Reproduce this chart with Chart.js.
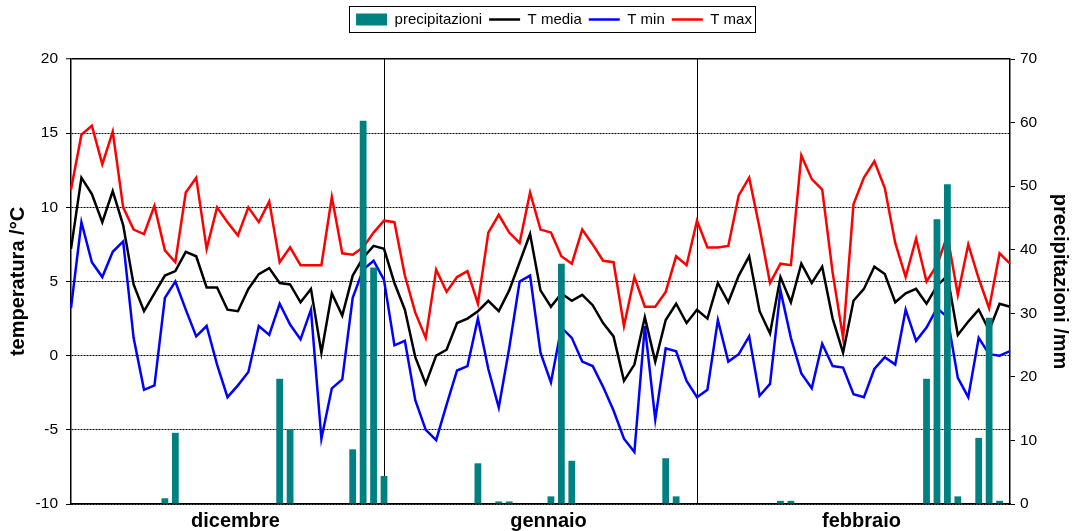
<!DOCTYPE html>
<html>
<head>
<meta charset="utf-8">
<script src="https://cdn.jsdelivr.net/npm/chart.js@4.4.0/dist/chart.umd.min.js"></script>
<style>
  html, body { margin: 0; padding: 0; background: #fff; }
  #wrap { width: 1078px; height: 531px; }
</style>
</head>
<body>
<div id="wrap"><canvas id="meteo" width="1078" height="531"></canvas></div>
<script>
// mesi e giorni (dic, gen, feb bisestile)
const mesi = ['dicembre', 'gennaio', 'febbraio'];
const giorniMese = [31, 31, 29];
const posMese = [15, 45, 75];     // dove scrivere il nome del mese
const separatori = [30, 60];      // linee verticali tra i mesi

const tickTemp = [-10, -5, 0, 5, 10, 15, 20];
const tickPrec = [0, 10, 20, 30, 40, 50, 60, 70];

const tMedia = [
  7.2, 12.0, 10.9, 9.0, 11.1, 8.8, 4.8, 3.0, 4.2, 5.4, 5.7, 7.0, 6.7, 4.6, 4.6, 3.1, 3.0, 4.5, 5.5, 5.9,
  4.9, 4.8, 3.6, 4.5, 0.2, 4.2, 2.7, 5.4, 6.6, 7.4, 7.2, 4.9, 3.1, -0.1, -1.9, 0.0, 0.4, 2.2, 2.5, 3.0,
  3.7, 3.0, 4.4, 6.3, 8.2, 4.4, 3.3, 4.2, 3.7, 4.1, 3.4, 2.2, 1.3, -1.7, -0.6, 2.6, -0.4, 2.4, 3.5, 2.2,
  3.1, 2.5, 4.9, 3.6, 5.4, 6.7, 3.0, 1.5, 5.3, 3.6, 6.2, 4.9, 6.0, 2.5, 0.2, 3.7, 4.5, 6.0, 5.5, 3.6,
  4.2, 4.5, 3.5, 4.7, 5.4, 1.4, 2.3, 3.1, 1.7, 3.5, 3.3
];
const tMin = [
  3.2, 9.0, 6.3, 5.3, 7.0, 7.7, 1.2, -2.3, -2.0, 3.9, 5.0, 3.1, 1.3, 2.0, -0.6, -2.8, -2.0, -1.1, 2.0, 1.4,
  3.5, 2.1, 1.1, 3.1, -5.6, -2.2, -1.6, 3.9, 5.8, 6.4, 5.1, 0.7, 1.0, -3.0, -5.0, -5.7, -3.3, -1.0, -0.7, 2.5,
  -0.9, -3.5, 0.5, 5.0, 5.4, 0.2, -1.8, 1.9, 1.2, -0.4, -0.7, -2.1, -3.7, -5.6, -6.5, 2.0, -4.3, 0.5, 0.3, -1.7,
  -2.8, -2.3, 2.4, -0.4, 0.1, 1.3, -2.7, -1.9, 4.4, 1.2, -1.2, -2.2, 0.8, -0.7, -0.8, -2.6, -2.8, -0.9, -0.1, -0.6,
  3.1, 1.0, 1.9, 3.2, 2.6, -1.5, -2.8, 1.2, 0.1, 0.0, 0.3
];
const tMax = [
  11.2, 14.9, 15.5, 12.9, 15.1, 10.0, 8.5, 8.2, 10.1, 7.1, 6.3, 11.0, 12.0, 7.2, 10.0, 9.0, 8.1, 10.0, 9.0, 10.4,
  6.3, 7.3, 6.1, 6.1, 6.1, 10.7, 6.9, 6.8, 7.3, 8.3, 9.1, 9.0, 5.4, 2.9, 1.2, 5.8, 4.3, 5.3, 5.7, 3.5,
  8.3, 9.5, 8.3, 7.6, 11.0, 8.5, 8.3, 6.7, 6.2, 8.5, 7.5, 6.4, 6.3, 2.0, 5.3, 3.3, 3.3, 4.3, 6.7, 6.1,
  9.1, 7.3, 7.3, 7.4, 10.8, 12.0, 8.6, 4.9, 6.2, 6.1, 13.5, 11.9, 11.2, 5.6, 1.2, 10.2, 12.0, 13.1, 11.3, 7.6,
  5.3, 7.9, 5.0, 6.1, 8.1, 4.1, 7.5, 5.2, 3.2, 6.9, 6.2
];
const precipitazioni = [
  0, 0, 0, 0, 0, 0, 0, 0, 0, 0.9, 11.2, 0, 0, 0, 0, 0, 0, 0, 0, 0,
  19.7, 11.8, 0, 0, 0, 0, 0, 8.6, 60.3, 37.2, 4.4, 0, 0, 0, 0, 0, 0, 0, 0, 6.4,
  0, 0.4, 0.4, 0, 0, 0, 1.2, 37.8, 6.8, 0, 0, 0, 0, 0, 0, 0, 0, 7.2, 1.2, 0,
  0, 0, 0, 0, 0, 0, 0, 0, 0.5, 0.5, 0, 0, 0, 0, 0, 0, 0, 0, 0, 0,
  0, 0, 19.7, 44.8, 50.3, 1.2, 0, 10.4, 29.3, 0.5, 0
];

const giorni = [];
mesi.forEach((m, k) => {
  for (let d = 1; d <= giorniMese[k]; d++) giorni.push(d + ' ' + m);
});

Chart.defaults.font.family = 'Liberation Sans, Arial, sans-serif';
Chart.defaults.color = '#000';

// cornice attorno alla legenda
const cornice = {
  id: 'cornice',
  afterDraw(chart) {
    const hb = chart.legend.legendHitBoxes;
    if (!hb || !hb.length) return;
    const a = hb[0], b = hb[hb.length - 1];
    const ctx = chart.ctx;
    ctx.save();
    ctx.strokeStyle = '#000';
    ctx.lineWidth = 1;
    ctx.strokeRect(Math.round(a.left) - 6.5, Math.round(a.top) - 5.5,
      Math.round(b.left + b.width - a.left) + 10, Math.round(a.height) + 11);
    ctx.restore();
  }
};

new Chart(document.getElementById('meteo'), {
  type: 'bar',
  data: {
    labels: giorni,
    datasets: [
      {
        type: 'bar', label: 'precipitazioni', data: precipitazioni, yAxisID: 'yP',
        backgroundColor: '#008080', borderWidth: 0, pointStyle: 'rect',
        barPercentage: 0.65, categoryPercentage: 1, order: 1
      },
      {
        type: 'line', label: 'T media', data: tMedia, yAxisID: 'yT',
        borderColor: '#000000', backgroundColor: '#000000', borderWidth: 2.5,
        pointRadius: 0, pointStyle: 'line', tension: 0, order: 2
      },
      {
        type: 'line', label: 'T min', data: tMin, yAxisID: 'yT',
        borderColor: '#0000ff', backgroundColor: '#0000ff', borderWidth: 2.5,
        pointRadius: 0, pointStyle: 'line', tension: 0, order: 2
      },
      {
        type: 'line', label: 'T max', data: tMax, yAxisID: 'yT',
        borderColor: '#ff0000', backgroundColor: '#ff0000', borderWidth: 2.5,
        pointRadius: 0, pointStyle: 'line', tension: 0, order: 2
      }
    ]
  },
  options: {
    responsive: false,
    animation: false,
    layout: { padding: { left: 30, right: 0, top: 5, bottom: 0 } },
    plugins: {
      tooltip: { enabled: false },
      legend: {
        position: 'top',
        labels: {
          usePointStyle: true, pointStyleWidth: 31, boxHeight: 12,
          padding: 7, color: '#000', font: { size: 15 },
          sort: (a, b) => a.datasetIndex - b.datasetIndex
        }
      }
    },
    scales: {
      x: {
        type: 'category',
        offset: false,
        grid: {
          offset: false,
          drawTicks: false,
          color: c => separatori.includes(c.index) ? '#000' : 'rgba(0,0,0,0)',
          lineWidth: 1
        },
        border: { color: '#000', width: 1.5 },
        ticks: {
          autoSkip: false, maxRotation: 0, minRotation: 0,
          padding: 5, labelOffset: 8,
          font: { size: 20, weight: 'bold' },
          callback: (v, i) => {
            const k = posMese.indexOf(i);
            return k >= 0 ? mesi[k] : '';
          }
        },
        afterFit: s => { s.height = 27; }
      },
      xTop: {
        type: 'category',
        position: 'top',
        grid: { display: false },
        border: { display: false },
        ticks: { display: false },
        afterFit: s => { s.height = 22; }
      },
      yT: {
        position: 'left',
        min: -10, max: 20,
        afterBuildTicks: s => { s.ticks = tickTemp.map(v => ({ value: v })); },
        grid: {
          color: '#000',
          lineWidth: c => (c.tick && c.tick.value === 20) ? 1.5 : 1,
          tickLength: 5, tickColor: '#000', tickWidth: 1
        },
        border: {
          color: '#000', width: 1.5,
          dash: c => (c.tick && c.tick.value === 20) ? [] : [2, 1]
        },
        ticks: { font: { size: 15.5 }, color: '#000', padding: 8 },
        title: {
          display: true, text: 'temperatura /°C',
          font: { size: 20, weight: 'bold' }, padding: { top: -24, bottom: 0 }
        },
        afterFit: s => { s.width = 41; }
      },
      yP: {
        position: 'right',
        min: 0, max: 70,
        afterBuildTicks: s => { s.ticks = tickPrec.map(v => ({ value: v })); },
        grid: { drawOnChartArea: false, tickLength: 5, tickColor: '#000', tickWidth: 1 },
        border: { color: '#000', width: 1.5 },
        ticks: { font: { size: 15.5 }, color: '#000', padding: 5 },
        title: {
          display: true, text: 'precipitazioni /mm',
          font: { size: 20, weight: 'bold' }, padding: { top: 6, bottom: 0 }
        },
        afterFit: s => { s.width = 68; }
      }
    }
  },
  plugins: [cornice]
});
</script>
</body>
</html>
